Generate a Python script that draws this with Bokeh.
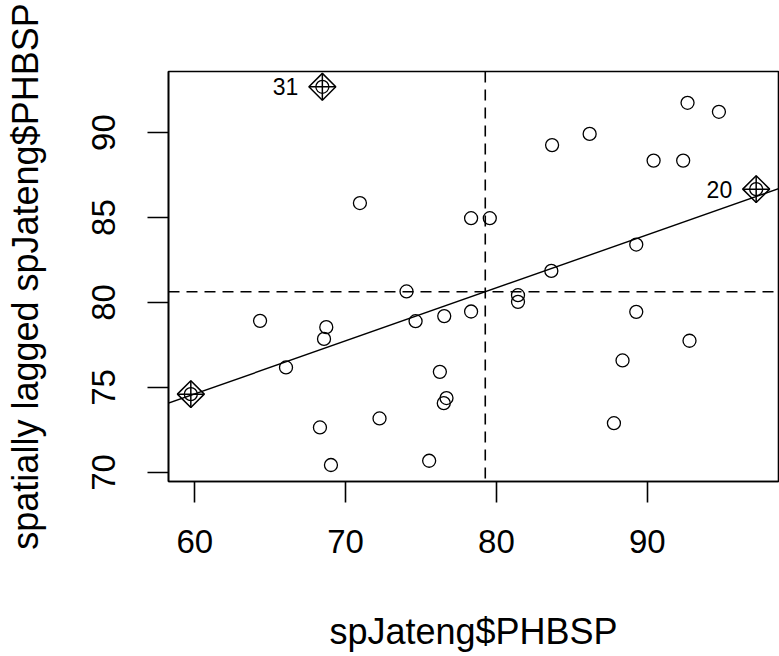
import numpy as np
from bokeh.plotting import figure
from bokeh.models import Range1d, FixedTicker, Span, Slope, ColumnDataSource
from bokeh.core.properties import value
from bokeh.embed import file_html
from bokeh.resources import INLINE

# data (spJateng$PHBSP vs its spatial lag)
phbsp = [59.74, 64.33, 66.05, 68.72, 68.57, 68.30, 69.03, 68.46, 70.95, 72.25,
         74.04, 74.64, 75.54, 76.25, 76.69, 76.51, 76.54, 78.32, 78.32, 79.56,
         81.43, 81.43, 83.64, 83.69, 86.18, 87.79, 88.36, 89.27, 89.27, 90.42,
         92.38, 92.67, 92.80, 94.75, 97.22]
lagged = [74.61, 78.92, 76.18, 78.55, 77.86, 72.65, 70.44, 92.69, 85.85, 73.18,
          80.65, 78.90, 70.69, 75.92, 74.38, 74.08, 79.20, 79.47, 84.96, 84.96,
          80.43, 80.04, 81.86, 89.26, 89.92, 72.90, 76.59, 83.41, 79.45, 88.35,
          88.35, 91.75, 77.75, 91.22, 86.67]
influential = [True, False, False, False, False, False, False, True, False, False,
               False, False, False, False, False, False, False, False, False, False,
               False, False, False, False, False, False, False, False, False, False,
               False, False, False, False, True]
point_labels = ["", "", "", "", "", "", "", "31", "", "",
                "", "", "", "", "", "", "", "", "", "",
                "", "", "", "", "", "", "", "", "", "",
                "", "", "", "", "20"]
x_ticks = [60, 70, 80, 90]
y_ticks = [70, 75, 80, 85, 90]
x_title = "spJateng$PHBSP"
y_title = "spatially lagged spJateng$PHBSP"

FONT = "Liberation Sans"

p = figure(width=779, height=656,
           x_range=Range1d(58.26, 98.70), y_range=Range1d(69.47, 93.59),
           output_backend="svg", toolbar_location=None,
           min_border_left=168, min_border_right=1,
           min_border_top=71, min_border_bottom=175)
p.background_fill_color = "white"
p.border_fill_color = "white"
p.grid.visible = False
p.outline_line_color = "black"
p.outline_line_width = 1.6
p.outline_line_alpha = 1.0

for ax in (p.xaxis[0], p.yaxis[0]):
    ax.axis_line_color = "black"
    ax.axis_line_width = 1.6
    ax.major_tick_line_color = "black"
    ax.major_tick_line_width = 1.6
    ax.major_tick_out = 21
    ax.major_tick_in = 0
    ax.minor_tick_line_color = None
    ax.major_label_text_font = FONT
    ax.major_label_text_font_size = "33px"
    ax.major_label_text_color = "black"
    ax.axis_label_text_font = FONT
    ax.axis_label_text_font_size = "36px"
    ax.axis_label_text_font_style = "normal"
    ax.axis_label_text_color = "black"

p.xaxis[0].ticker = FixedTicker(ticks=x_ticks)
p.yaxis[0].ticker = FixedTicker(ticks=y_ticks)
p.xaxis[0].axis_label = x_title
p.yaxis[0].axis_label = y_title
p.xaxis[0].major_label_standoff = 27
p.xaxis[0].axis_label_standoff = 55
p.yaxis[0].major_label_orientation = "vertical"
p.yaxis[0].major_label_standoff = 32
p.yaxis[0].axis_label_standoff = 44

# regression line and mean lines
xa = np.array(phbsp)
ya = np.array(lagged)
b, a = np.polyfit(xa, ya, 1)
p.add_layout(Slope(gradient=b, y_intercept=a, line_color="black", line_width=1.4))
p.add_layout(Span(location=float(xa.mean()), dimension="height", line_color="black",
                  line_width=1.6, line_dash="11 7"))
p.add_layout(Span(location=float(ya.mean()), dimension="width", line_color="black",
                  line_width=1.6, line_dash="11 7"))

src = ColumnDataSource(dict(x=phbsp, y=lagged, lab=point_labels))
p.scatter("x", "y", source=src, marker="circle", size=13, fill_color=None,
          line_color="black", line_width=1.3)

inf_x = [xv for xv, f in zip(phbsp, influential) if f]
inf_y = [yv for yv, f in zip(lagged, influential) if f]
p.scatter(inf_x, inf_y, marker="square", size=19, angle=45, angle_units="deg",
          fill_color=None, line_color="black", line_width=1.5)
p.scatter(inf_x, inf_y, marker="cross", size=27, line_color="black", line_width=1.5)

p.text("x", "y", text="lab", source=src, text_align="right", text_baseline="middle",
       x_offset=-24, text_font=value(FONT), text_font_size="23px", text_color="black")

open("out.html", "w").write(file_html(p, INLINE))
